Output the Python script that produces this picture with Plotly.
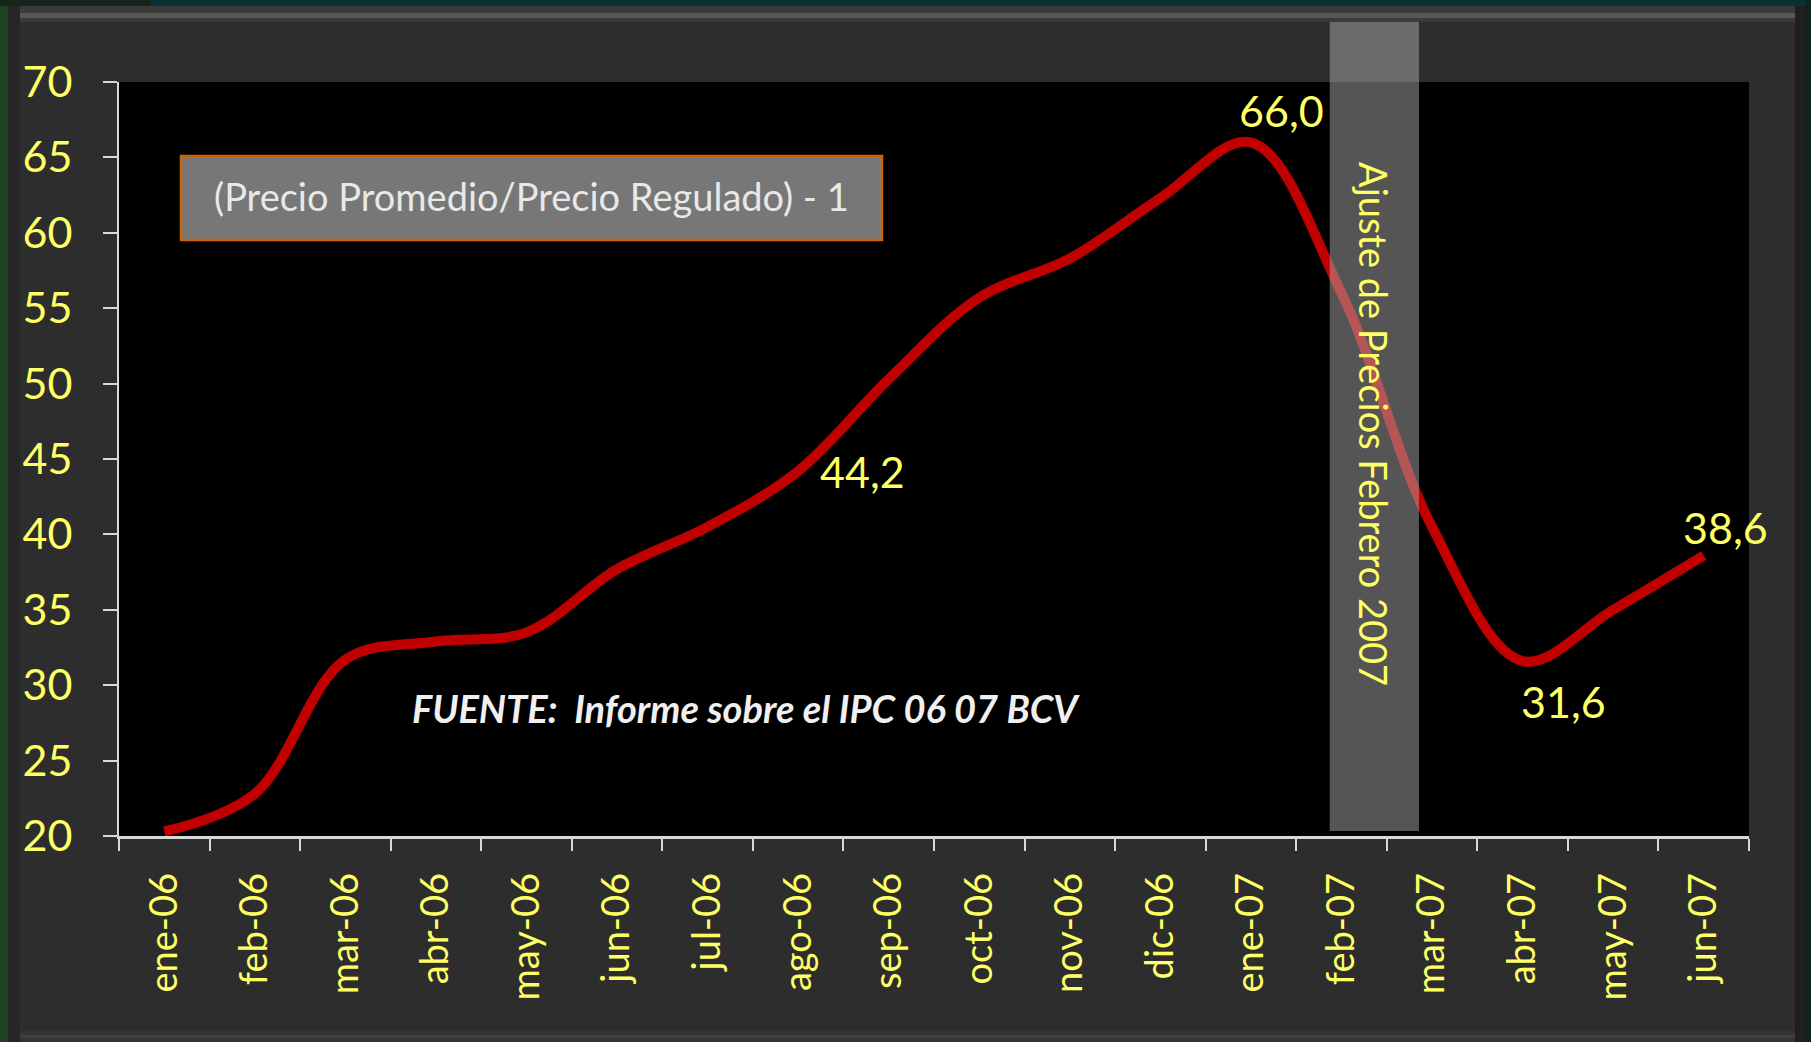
import plotly.graph_objects as go

# (Precio Promedio/Precio Regulado) - 1, monthly
meses = ['ene-06', 'feb-06', 'mar-06', 'abr-06', 'may-06', 'jun-06',
         'jul-06', 'ago-06', 'sep-06', 'oct-06', 'nov-06', 'dic-06',
         'ene-07', 'feb-07', 'mar-07', 'abr-07', 'may-07', 'jun-07']
valores = [20.3, 22.8, 31.7, 32.9, 33.5, 37.7,
           40.5, 44.2, 50.3, 55.7, 58.3, 62.3,
           66.0, 56.0, 40.5, 31.6, 35.0, 38.6]
y_ticks = [20, 25, 30, 35, 40, 45, 50, 55, 60, 65, 70]

# months that carry a value label, with (xshift, yshift) in px
etiquetas = {'ago-06': (64, 0), 'ene-07': (31, 32), 'abr-07': (41, -40), 'jun-07': (22, 28)}

W, H = 1811, 1042
ML, MR, MT, MB = 119, 62, 82, 206
PW, PH = W - ML - MR, H - MT - MB

YELLOW = '#FFFF66'
FONT = 'Lato'


def px_x(px):
    return (px - ML) / PW


def px_y(py):
    return (H - MB - py) / PH


def rect(x0, y0, x1, y1, color, layer='below'):
    return dict(type='rect', xref='paper', yref='paper',
                x0=px_x(x0), x1=px_x(x1), y0=px_y(y0), y1=px_y(y1),
                fillcolor=color, line={'width': 0}, layer=layer)


fig = go.Figure()
fig.add_trace(go.Scatter(
    x=meses, y=valores, mode='lines',
    line={'color': '#C00000', 'width': 10, 'shape': 'spline', 'smoothing': 1.0},
    hoverinfo='x+y',
))

shapes = [
    # outer slide background strips
    rect(0, 0, 8, H, '#1f4322'),
    rect(0, 0, 150, 6, '#12261a'),
    rect(150, 0, W, 6, '#0d3132'),
    rect(1806, 0, W, H, '#0f2414'),
    # bevels of the frame
    rect(8, 6, 1806, 13, '#3a3a3a'),
    rect(14, 13, 1800, 18, '#575757'),
    rect(20, 18, 1795, 22, '#3a3a3a'),
    rect(8, 6, 20, 1042, '#262626'),
    rect(1795, 6, 1806, 1042, '#1f1f1f'),
    rect(20, 1031, 1795, 1042, '#343434'),
    rect(20, 1035, 1795, 1038, '#3f3f3f'),
    # series title box
    dict(type='rect', xref='paper', yref='paper',
         x0=px_x(181), x1=px_x(882), y0=px_y(240), y1=px_y(156),
         fillcolor='#777777', line={'color': '#CC6600', 'width': 2.5}, layer='above'),
    # price adjustment band (feb-07)
    dict(type='rect', xref='x', yref='paper',
         x0=12.87, x1=13.855, y0=px_y(831), y1=px_y(22),
         fillcolor='rgba(170,170,170,0.5)', line={'width': 0}, layer='above'),
]

annotations = [
    dict(xref='paper', yref='paper', x=px_x(531), y=px_y(196),
         xanchor='center', yanchor='middle',
         text='(Precio Promedio/Precio Regulado) - 1', showarrow=False,
         font={'family': FONT, 'size': 38, 'color': '#E8E8E8'}),
    dict(xref='paper', yref='paper', x=px_x(746), y=px_y(708),
         xanchor='center', yanchor='middle',
         text='<b><i>FUENTE:\u00a0\u00a0Informe sobre el IPC 06 07 BCV</i></b>', showarrow=False,
         font={'family': FONT, 'size': 38, 'color': '#F0F0F0'}),
    dict(xref='paper', yref='paper', x=px_x(1374), y=px_y(424),
         xanchor='center', yanchor='middle',
         text='Ajuste de Precios Febrero 2007', showarrow=False, textangle=90,
         font={'family': FONT, 'size': 38, 'color': YELLOW}),
]
for mes, (dx, dy) in etiquetas.items():
    v = valores[meses.index(mes)]
    annotations.append(dict(
        xref='x', yref='y', x=mes, y=v, xshift=dx, yshift=dy,
        xanchor='center', yanchor='middle',
        text=f'{v:.1f}'.replace('.', ','), showarrow=False,
        font={'family': FONT, 'size': 43, 'color': YELLOW},
    ))

fig.update_layout(
    width=W, height=H,
    margin={'l': ML, 'r': MR, 't': MT, 'b': MB, 'pad': 0},
    paper_bgcolor='#2D2D2D',
    plot_bgcolor='#000000',
    showlegend=False,
    font={'family': FONT, 'color': YELLOW},
    xaxis={
        'type': 'category',
        'categoryorder': 'array',
        'categoryarray': meses,
        'range': [-0.5, len(meses) - 0.5],
        'tickson': 'boundaries',
        'ticks': 'outside',
        'ticklen': 12,
        'tickwidth': 2,
        'tickcolor': '#D9D9D9',
        'showline': True,
        'linewidth': 2.5,
        'linecolor': '#D9D9D9',
        'showgrid': False,
        'tickangle': -90,
        'tickfont': {'family': FONT, 'size': 38, 'color': YELLOW},
        'ticklabelstandoff': 19,
        'fixedrange': True,
    },
    yaxis={
        'range': [20, 70],
        'tickmode': 'array',
        'tickvals': y_ticks,
        'ticktext': [str(t) for t in y_ticks],
        'ticks': 'outside',
        'ticklen': 14,
        'tickwidth': 2,
        'tickcolor': '#D9D9D9',
        'showline': True,
        'linewidth': 2,
        'linecolor': '#D9D9D9',
        'showgrid': False,
        'zeroline': False,
        'tickfont': {'family': FONT, 'size': 43, 'color': YELLOW},
        'ticklabelstandoff': 22,
        'fixedrange': True,
    },
    shapes=shapes,
    annotations=annotations,
)

# the page's default body margin would shift the figure by 8px
fig.write_html('out.html', config={'displayModeBar': False},
               post_script="document.body.style.margin='0px';")
